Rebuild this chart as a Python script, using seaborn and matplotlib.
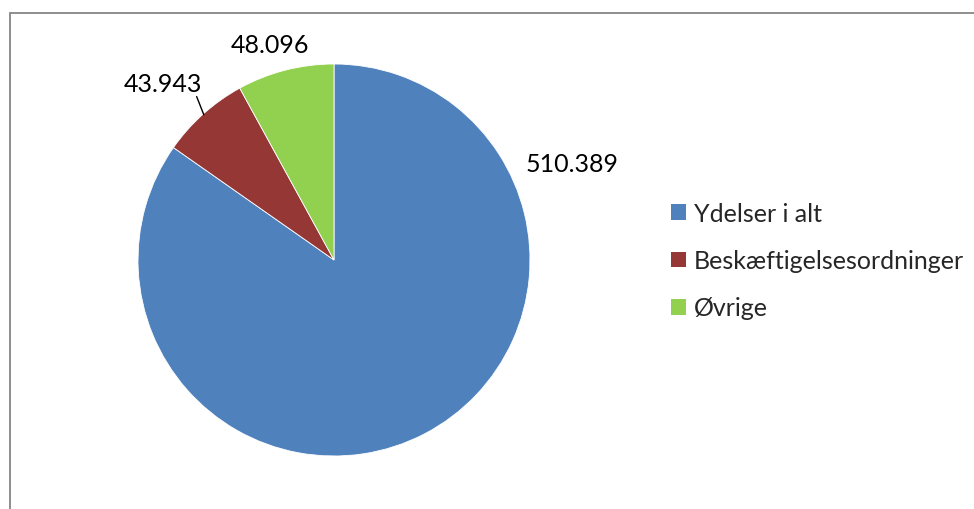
import matplotlib
matplotlib.use("Agg")
import matplotlib.pyplot as plt
import matplotlib.patches as mpatches
import seaborn as sns
import numpy as np

# ---------------------------
# DATA
# ---------------------------
categories = ["Ydelser i alt", "Beskæftigelsesordninger", "Øvrige"]
values = [510389, 43943, 48096]
value_labels = ["510.389", "43.943", "48.096"]
colors = ["#4F81BD", "#953735", "#92D050"]

# ---------------------------
# STYLE
# ---------------------------
sns.set_theme(style="white")
plt.rcParams["font.family"] = ["Lato", "DejaVu Sans"]
FS = 18

W, H = 974, 510
fig = plt.figure(figsize=(W / 100, H / 100), dpi=100)

# outer chart frame (partly cut by the image border)
frame = mpatches.Rectangle((9.5 / W, -0.1), 1.2, 1 - 13.5 / H + 0.1,
                           transform=fig.transFigure, fill=False,
                           edgecolor="#868686", linewidth=1.3)
fig.patches.append(frame)

# ---------------------------
# PIE
# ---------------------------
cx, cy, r = 334, 261, 196
ax = fig.add_axes([(cx - r) / W, (H - cy - r) / H, 2 * r / W, 2 * r / H])
wedges, _ = ax.pie(values, colors=colors, startangle=90, counterclock=False,
                   radius=1, wedgeprops=dict(linewidth=0.6, edgecolor="white"))
ax.set_xlim(-1, 1)
ax.set_ylim(-1, 1)
ax.set_aspect("equal")
ax.axis("off")

# data labels
label_pos = [(1.214, 0.49), (-0.872, 0.898), (-0.327, 1.10)]
for txt, (x, y) in zip(value_labels, label_pos):
    ax.text(x, y, txt, ha="center", va="center", fontsize=FS, color="black",
            clip_on=False)

# leader line for the small red slice
w = wedges[1]
mid = np.deg2rad((w.theta1 + w.theta2) / 2)
ax.plot([np.cos(mid) * 0.995, np.cos(mid) * 1.05],
        [np.sin(mid) * 0.995, np.sin(mid) * 1.12],
        color="black", linewidth=1.0, clip_on=False)

# ---------------------------
# LEGEND
# ---------------------------
handles = [mpatches.Patch(facecolor=c, edgecolor="none") for c in colors]
fig.legend(handles, categories, loc="upper left",
           bbox_to_anchor=(661 / W, 1 - 193 / H), frameon=False,
           fontsize=FS, handlelength=0.6, handleheight=0.6,
           handletextpad=0.3, labelspacing=0.97, borderaxespad=0)

fig.savefig("out.png", dpi=100)
